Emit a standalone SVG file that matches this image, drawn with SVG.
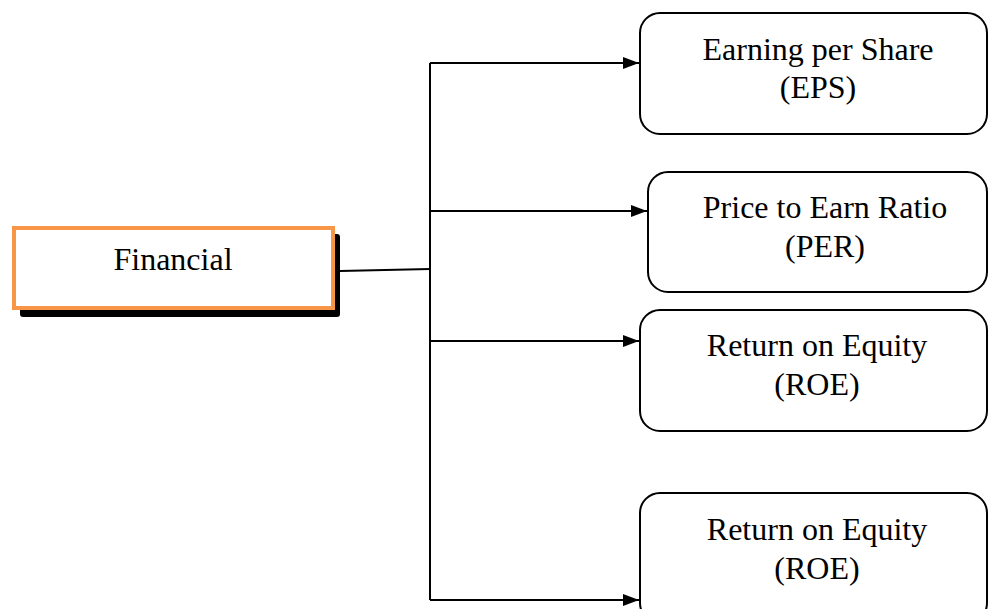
<svg xmlns="http://www.w3.org/2000/svg" width="989" height="609" viewBox="0 0 989 609">
<defs>
<style>
.t{font-family:"Liberation Serif","Times New Roman",serif;font-size:32px;fill:#000;text-anchor:middle}
.box{fill:#fff;stroke:#000;stroke-width:2}
.ln{stroke:#000;stroke-width:2;fill:none}
</style>
<marker id="ah" markerWidth="16" markerHeight="12" refX="16" refY="6" orient="auto" markerUnits="userSpaceOnUse">
<path d="M0,0 L16,6 L0,12 Z" fill="#000"/>
</marker>
</defs>
<rect width="989" height="609" fill="#fff"/>
<g id="financial">
<rect x="20" y="234" width="320" height="83" rx="3" fill="#000"/>
<rect x="14" y="228" width="319" height="80" fill="#fff" stroke="#f79646" stroke-width="4"/>
<text class="t" x="173" y="270">Financial</text>
</g>
<g id="connectors">
<polyline class="ln" points="340,271 430,269"/>
<line class="ln" x1="430" y1="63" x2="430" y2="600"/>
<line class="ln" x1="430" y1="63" x2="639" y2="63" marker-end="url(#ah)"/>
<line class="ln" x1="430" y1="211" x2="647" y2="211" marker-end="url(#ah)"/>
<line class="ln" x1="430" y1="341" x2="639" y2="341" marker-end="url(#ah)"/>
<line class="ln" x1="430" y1="600" x2="639" y2="600" marker-end="url(#ah)"/>
</g>
<g id="eps">
<rect class="box" x="640" y="13" width="347" height="121" rx="20"/>
<text class="t" x="818" y="60">Earning per Share</text>
<text class="t" x="818" y="98">(EPS)</text>
</g>
<g id="per">
<rect class="box" x="648" y="172" width="339" height="120" rx="20"/>
<text class="t" x="825" y="218">Price to Earn Ratio</text>
<text class="t" x="825" y="257">(PER)</text>
</g>
<g id="roe1">
<rect class="box" x="640" y="310" width="347" height="121" rx="20"/>
<text class="t" x="817" y="356">Return on Equity</text>
<text class="t" x="817" y="395">(ROE)</text>
</g>
<g id="roe2">
<rect class="box" x="640" y="493" width="347" height="130" rx="20"/>
<text class="t" x="817" y="540">Return on Equity</text>
<text class="t" x="817" y="579">(ROE)</text>
</g>
</svg>
